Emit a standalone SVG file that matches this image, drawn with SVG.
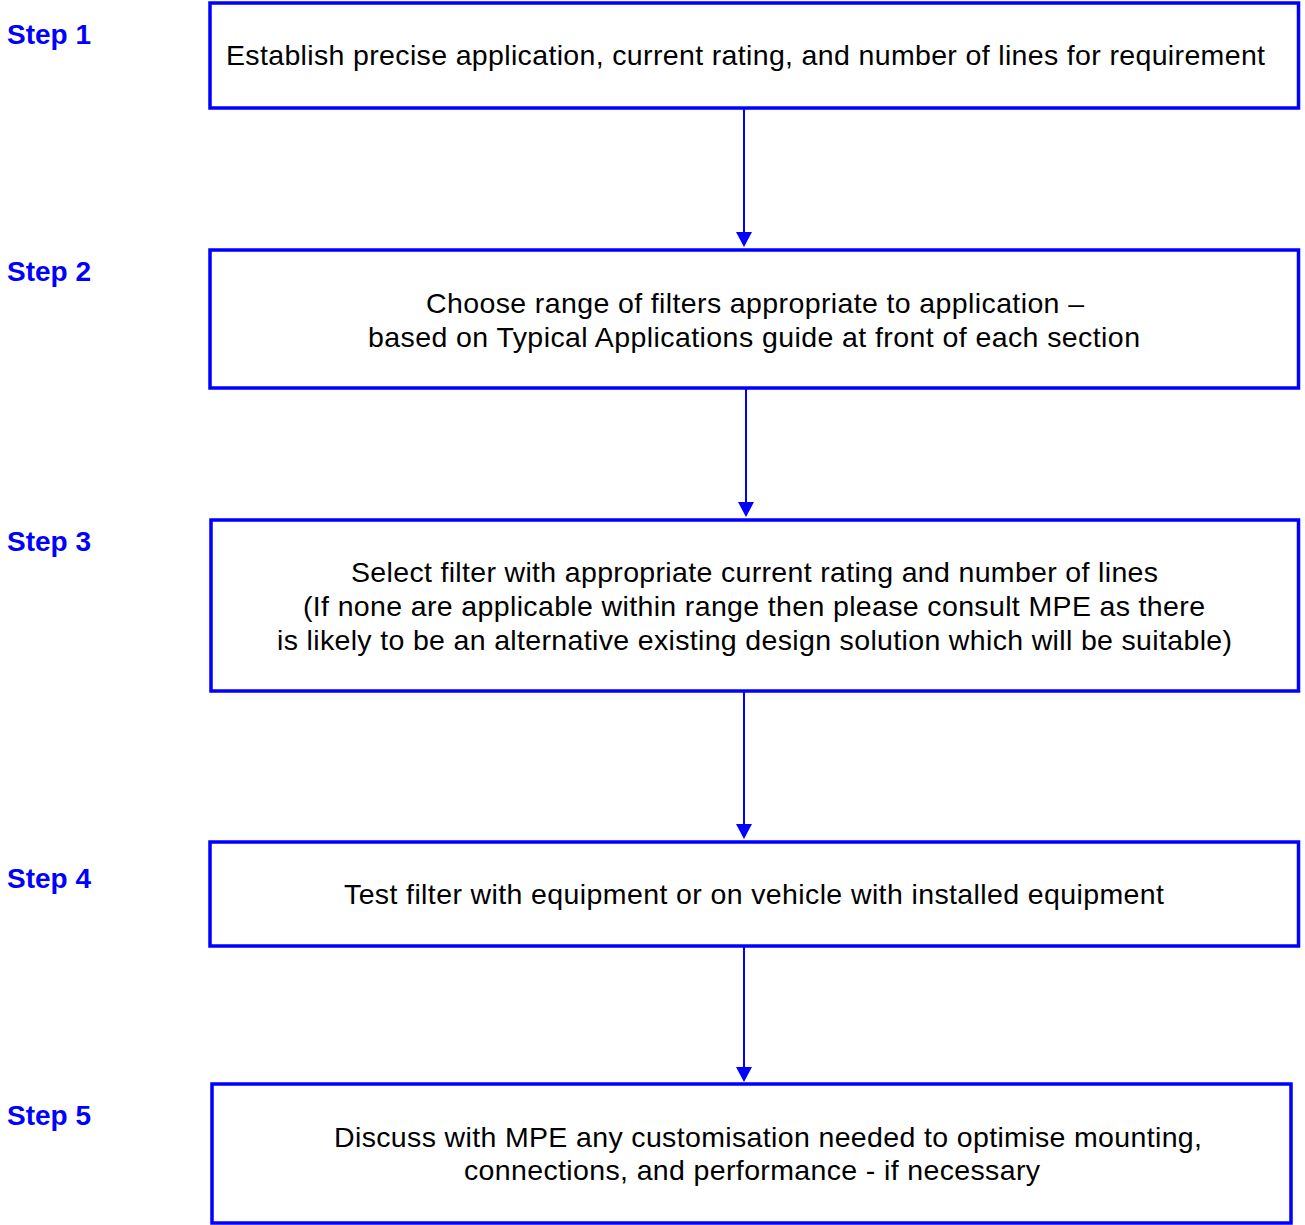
<svg xmlns="http://www.w3.org/2000/svg" width="1305" height="1225" viewBox="0 0 1305 1225">
<style>
.box{fill:#fff;stroke:#0000ff;stroke-width:3.5}
.t{font-family:"Liberation Sans",Arial,sans-serif;font-size:28.5px;fill:#000}
.step{font-family:"Liberation Sans",Arial,sans-serif;font-size:28px;font-weight:bold;fill:#0000ff}
.ln{stroke:#0000ff;stroke-width:2}
.ah{fill:#0000ff}
</style>
<rect width="1305" height="1225" fill="#fff"/>
<g id="labels">
<text class="step" x="7" y="44">Step 1</text>
<text class="step" x="7" y="281">Step 2</text>
<text class="step" x="7" y="551">Step 3</text>
<text class="step" x="7" y="888">Step 4</text>
<text class="step" x="7" y="1125">Step 5</text>
</g>
<g id="connectors">
<line class="ln" x1="744" y1="109" x2="744" y2="234"/>
<path class="ah" d="M736,232 L752,232 L744,247 Z"/>
<line class="ln" x1="746" y1="385" x2="746" y2="504"/>
<path class="ah" d="M738,502 L754,502 L746,517 Z"/>
<line class="ln" x1="744" y1="692" x2="744" y2="826"/>
<path class="ah" d="M736,824 L752,824 L744,839 Z"/>
<line class="ln" x1="744" y1="943" x2="744" y2="1069"/>
<path class="ah" d="M736,1067 L752,1067 L744,1082 Z"/>
</g>
<g id="step1">
<rect class="box" x="210" y="3" width="1088.5" height="105"/>
<text class="t" x="226" y="65" textLength="1039">Establish precise application, current rating, and number of lines for requirement</text>
</g>
<g id="step2">
<rect class="box" x="210" y="250" width="1088.5" height="138"/>
<text class="t" x="426" y="313" textLength="658">Choose range of filters appropriate to application –</text>
<text class="t" x="368" y="347" textLength="772">based on Typical Applications guide at front of each section</text>
</g>
<g id="step3">
<rect class="box" x="211" y="520" width="1087.5" height="171"/>
<text class="t" x="351" y="582" textLength="807">Select filter with appropriate current rating and number of lines</text>
<text class="t" x="303" y="616" textLength="902">(If none are applicable within range then please consult MPE as there</text>
<text class="t" x="277" y="650" textLength="955">is likely to be an alternative existing design solution which will be suitable)</text>
</g>
<g id="step4">
<rect class="box" x="210" y="842" width="1088.5" height="104"/>
<text class="t" x="344" y="904" textLength="820">Test filter with equipment or on vehicle with installed equipment</text>
</g>
<g id="step5">
<rect class="box" x="212" y="1084" width="1079" height="139"/>
<text class="t" x="334" y="1147" textLength="868">Discuss with MPE any customisation needed to optimise mounting,</text>
<text class="t" x="464" y="1180" textLength="576">connections, and performance - if necessary</text>
</g>
</svg>
